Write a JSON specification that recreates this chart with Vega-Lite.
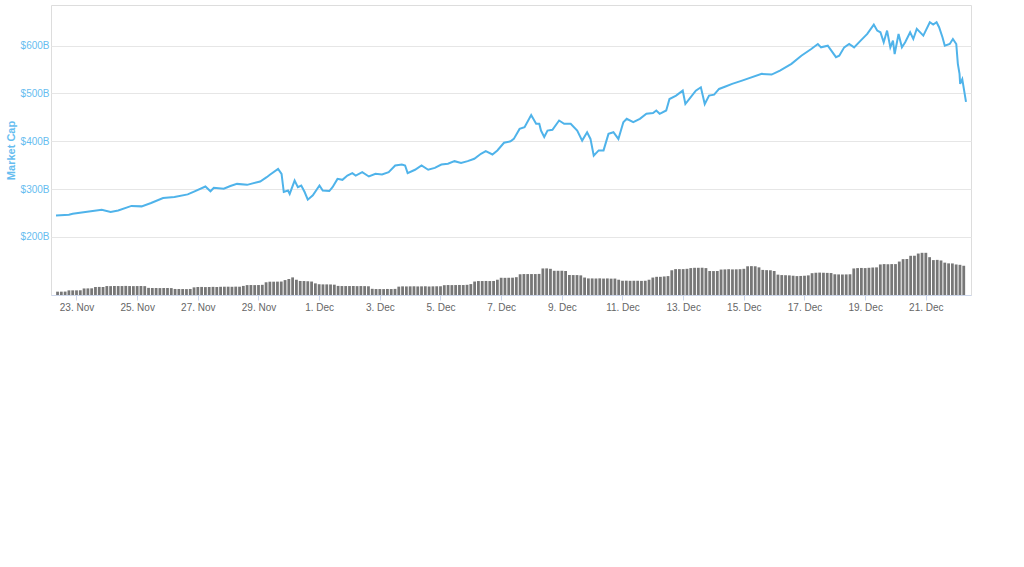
{
"$schema": "https://vega.github.io/schema/vega-lite/v6.json",
"width": 920,
"height": 290,
"layer": [
{"data": {"values": [
{"t":"2017-11-22T07:47:00Z","c":245},{"t":"2017-11-22T18:00:00Z","c":246.5},{"t":"2017-11-22T21:00:00Z","c":248.5},{"t":"2017-11-23T07:00:00Z","c":252},{"t":"2017-11-23T20:00:00Z","c":257},{"t":"2017-11-24T03:00:00Z","c":252.5},{"t":"2017-11-24T09:00:00Z","c":255.5},{"t":"2017-11-24T19:30:00Z","c":265},{"t":"2017-11-25T03:30:00Z","c":264},{"t":"2017-11-25T11:00:00Z","c":271},{"t":"2017-11-25T20:30:00Z","c":281.5},{"t":"2017-11-26T05:30:00Z","c":283.5},{"t":"2017-11-26T16:00:00Z","c":289},{"t":"2017-11-26T21:00:00Z","c":295},{"t":"2017-11-27T06:00:00Z","c":305.5},{"t":"2017-11-27T10:00:00Z","c":295.5},{"t":"2017-11-27T12:40:00Z","c":303},{"t":"2017-11-27T20:30:00Z","c":301},{"t":"2017-11-28T01:45:00Z","c":306.5},{"t":"2017-11-28T07:00:00Z","c":311},{"t":"2017-11-28T15:00:00Z","c":309},{"t":"2017-11-29T01:20:00Z","c":316},{"t":"2017-11-29T06:30:00Z","c":325},{"t":"2017-11-29T09:00:00Z","c":330},{"t":"2017-11-29T15:30:00Z","c":342.5},{"t":"2017-11-29T18:15:00Z","c":332},{"t":"2017-11-29T20:00:00Z","c":294},{"t":"2017-11-29T23:20:00Z","c":297},{"t":"2017-11-30T00:40:00Z","c":290},{"t":"2017-11-30T04:35:00Z","c":318},{"t":"2017-11-30T07:10:00Z","c":304},{"t":"2017-11-30T09:50:00Z","c":307.5},{"t":"2017-11-30T12:30:00Z","c":294},{"t":"2017-11-30T15:00:00Z","c":278},{"t":"2017-11-30T19:00:00Z","c":287},{"t":"2017-12-01T00:15:00Z","c":307.5},{"t":"2017-12-01T02:50:00Z","c":297},{"t":"2017-12-01T08:00:00Z","c":296},{"t":"2017-12-01T10:35:00Z","c":304},{"t":"2017-12-01T14:30:00Z","c":321.5},{"t":"2017-12-01T18:25:00Z","c":319.5},{"t":"2017-12-01T22:20:00Z","c":328.5},{"t":"2017-12-02T02:15:00Z","c":333.5},{"t":"2017-12-02T04:55:00Z","c":328.5},{"t":"2017-12-02T10:05:00Z","c":335.5},{"t":"2017-12-02T15:20:00Z","c":326.5},{"t":"2017-12-02T20:35:00Z","c":332},{"t":"2017-12-03T01:45:00Z","c":330.5},{"t":"2017-12-03T07:00:00Z","c":335.5},{"t":"2017-12-03T12:10:00Z","c":349.5},{"t":"2017-12-03T17:25:00Z","c":351.5},{"t":"2017-12-03T20:00:00Z","c":349.5},{"t":"2017-12-03T22:00:00Z","c":333.5},{"t":"2017-12-04T03:50:00Z","c":340.5},{"t":"2017-12-04T09:00:00Z","c":349.5},{"t":"2017-12-04T14:15:00Z","c":340.5},{"t":"2017-12-04T19:30:00Z","c":344.5},{"t":"2017-12-05T00:40:00Z","c":351.5},{"t":"2017-12-05T05:55:00Z","c":353},{"t":"2017-12-05T11:05:00Z","c":358.5},{"t":"2017-12-05T16:15:00Z","c":354.5},{"t":"2017-12-05T21:30:00Z","c":358.5},{"t":"2017-12-06T02:45:00Z","c":363.5},{"t":"2017-12-06T08:00:00Z","c":374},{"t":"2017-12-06T11:50:00Z","c":379.5},{"t":"2017-12-06T17:05:00Z","c":372.5},{"t":"2017-12-06T21:00:00Z","c":381},{"t":"2017-12-07T02:15:00Z","c":397},{"t":"2017-12-07T07:25:00Z","c":400},{"t":"2017-12-07T10:00:00Z","c":405},{"t":"2017-12-07T14:35:00Z","c":426},{"t":"2017-12-07T18:30:00Z","c":429.5},{"t":"2017-12-07T23:45:00Z","c":455},{"t":"2017-12-08T03:40:00Z","c":436.5},{"t":"2017-12-08T06:10:00Z","c":436.5},{"t":"2017-12-08T07:30:00Z","c":422.5},{"t":"2017-12-08T10:05:00Z","c":409},{"t":"2017-12-08T12:40:00Z","c":422.5},{"t":"2017-12-08T16:35:00Z","c":424},{"t":"2017-12-08T21:50:00Z","c":443.5},{"t":"2017-12-09T01:50:00Z","c":436.5},{"t":"2017-12-09T07:00:00Z","c":436.5},{"t":"2017-12-09T12:10:00Z","c":422.5},{"t":"2017-12-09T16:05:00Z","c":401.5},{"t":"2017-12-09T20:00:00Z","c":419},{"t":"2017-12-09T22:40:00Z","c":405},{"t":"2017-12-10T01:15:00Z","c":370},{"t":"2017-12-10T05:10:00Z","c":381},{"t":"2017-12-10T09:00:00Z","c":381},{"t":"2017-12-10T12:55:00Z","c":415.5},{"t":"2017-12-10T16:50:00Z","c":419},{"t":"2017-12-10T20:45:00Z","c":405},{"t":"2017-12-11T00:40:00Z","c":440},{"t":"2017-12-11T03:20:00Z","c":447},{"t":"2017-12-11T08:30:00Z","c":440},{"t":"2017-12-11T13:45:00Z","c":447},{"t":"2017-12-11T18:55:00Z","c":457.5},{"t":"2017-12-12T00:10:00Z","c":459},{"t":"2017-12-12T02:45:00Z","c":464.5},{"t":"2017-12-12T05:25:00Z","c":457.5},{"t":"2017-12-12T10:35:00Z","c":464.5},{"t":"2017-12-12T13:10:00Z","c":488.5},{"t":"2017-12-12T18:25:00Z","c":495.5},{"t":"2017-12-12T23:40:00Z","c":506},{"t":"2017-12-13T01:45:00Z","c":478},{"t":"2017-12-13T04:55:00Z","c":488.5},{"t":"2017-12-13T10:00:00Z","c":506},{"t":"2017-12-13T14:00:00Z","c":513},{"t":"2017-12-13T17:05:00Z","c":478},{"t":"2017-12-13T20:30:00Z","c":495.5},{"t":"2017-12-14T00:30:00Z","c":497.5},{"t":"2017-12-14T04:25:00Z","c":509.5},{"t":"2017-12-14T09:30:00Z","c":514.5},{"t":"2017-12-14T14:45:00Z","c":520},{"t":"2017-12-14T22:35:00Z","c":527},{"t":"2017-12-15T14:10:00Z","c":541},{"t":"2017-12-15T22:00:00Z","c":539.5},{"t":"2017-12-16T04:35:00Z","c":548},{"t":"2017-12-16T13:40:00Z","c":562},{"t":"2017-12-16T21:30:00Z","c":579},{"t":"2017-12-17T05:20:00Z","c":593},{"t":"2017-12-17T10:35:00Z","c":603.5},{"t":"2017-12-17T13:05:00Z","c":596.5},{"t":"2017-12-17T18:25:00Z","c":600},{"t":"2017-12-18T00:55:00Z","c":576},{"t":"2017-12-18T03:30:00Z","c":579},{"t":"2017-12-18T07:25:00Z","c":596.5},{"t":"2017-12-18T11:20:00Z","c":603.5},{"t":"2017-12-18T15:15:00Z","c":596.5},{"t":"2017-12-18T20:25:00Z","c":610.5},{"t":"2017-12-19T01:40:00Z","c":624.5},{"t":"2017-12-19T06:50:00Z","c":644},{"t":"2017-12-19T09:30:00Z","c":631.5},{"t":"2017-12-19T12:05:00Z","c":628},{"t":"2017-12-19T14:40:00Z","c":607},{"t":"2017-12-19T17:20:00Z","c":631.5},{"t":"2017-12-19T19:55:00Z","c":596.5},{"t":"2017-12-19T22:00:00Z","c":610.5},{"t":"2017-12-19T23:20:00Z","c":582.5},{"t":"2017-12-20T02:25:00Z","c":624.5},{"t":"2017-12-20T05:05:00Z","c":596.5},{"t":"2017-12-20T07:40:00Z","c":607},{"t":"2017-12-20T11:35:00Z","c":628},{"t":"2017-12-20T14:05:00Z","c":614},{"t":"2017-12-20T16:50:00Z","c":635},{"t":"2017-12-20T22:00:00Z","c":621},{"t":"2017-12-21T03:10:00Z","c":649},{"t":"2017-12-21T05:50:00Z","c":644},{"t":"2017-12-21T08:30:00Z","c":649},{"t":"2017-12-21T10:30:00Z","c":638.5},{"t":"2017-12-21T13:10:00Z","c":617.5},{"t":"2017-12-21T15:00:00Z","c":600},{"t":"2017-12-21T18:55:00Z","c":603.5},{"t":"2017-12-21T21:25:00Z","c":614},{"t":"2017-12-22T00:05:00Z","c":603.5},{"t":"2017-12-22T01:20:00Z","c":562},{"t":"2017-12-22T02:40:00Z","c":541},{"t":"2017-12-22T03:10:00Z","c":520},{"t":"2017-12-22T04:50:00Z","c":530},{"t":"2017-12-22T07:47:00Z","c":482.352}
]},
 "mark": {"type": "line", "color": "#4fb3ea", "strokeWidth": 2},
 "encoding": {
  "x": {"field": "t", "type": "temporal", "scale": {"domain": [1511336820000, 1513928820000]}, "axis": {"format": "%-d. %b", "title": null, "grid": false, "tickCount": 15, "labelColor": "#666666", "tickColor": "#ccd6eb", "domainColor": "#ccd6eb"}},
  "y": {"field": "c", "type": "quantitative", "scale": {"domain": [78.7, 685], "nice": false, "zero": false}, "axis": {"values": [200, 300, 400, 500, 600], "labelExpr": "'$' + datum.value + 'B'", "title": "Market Cap", "titleColor": "#66bdf0", "labelColor": "#66bdf0", "gridColor": "#e6e6e6", "domain": false, "ticks": false}}
 }},
{"data": {"values": [
{"t":"2017-11-22T09:00:00Z","v":4.6},{"t":"2017-11-22T12:00:00Z","v":4.6},{"t":"2017-11-22T15:00:00Z","v":4.7},{"t":"2017-11-22T18:00:00Z","v":6.4},{"t":"2017-11-22T21:00:00Z","v":6.4},
{"t":"2017-11-23T00:00:00Z","v":6.4},{"t":"2017-11-23T03:00:00Z","v":6.5},{"t":"2017-11-23T06:00:00Z","v":9.0},{"t":"2017-11-23T09:00:00Z","v":9.1},{"t":"2017-11-23T12:00:00Z","v":9.2},{"t":"2017-11-23T15:00:00Z","v":11.0},{"t":"2017-11-23T18:00:00Z","v":11.1},{"t":"2017-11-23T21:00:00Z","v":11.0},
{"t":"2017-11-24T00:00:00Z","v":12.3},{"t":"2017-11-24T03:00:00Z","v":12.2},{"t":"2017-11-24T06:00:00Z","v":12.4},{"t":"2017-11-24T09:00:00Z","v":12.3},{"t":"2017-11-24T12:00:00Z","v":12.3},{"t":"2017-11-24T15:00:00Z","v":12.5},{"t":"2017-11-24T18:00:00Z","v":12.3},{"t":"2017-11-24T21:00:00Z","v":12.2},
{"t":"2017-11-25T00:00:00Z","v":12.3},{"t":"2017-11-25T03:00:00Z","v":12.4},{"t":"2017-11-25T06:00:00Z","v":12.2},{"t":"2017-11-25T09:00:00Z","v":9.8},{"t":"2017-11-25T12:00:00Z","v":9.6},{"t":"2017-11-25T15:00:00Z","v":9.6},{"t":"2017-11-25T18:00:00Z","v":9.5},{"t":"2017-11-25T21:00:00Z","v":9.6},
{"t":"2017-11-26T00:00:00Z","v":9.6},{"t":"2017-11-26T03:00:00Z","v":9.5},{"t":"2017-11-26T06:00:00Z","v":8.3},{"t":"2017-11-26T09:00:00Z","v":8.2},{"t":"2017-11-26T12:00:00Z","v":8.2},{"t":"2017-11-26T15:00:00Z","v":8.1},{"t":"2017-11-26T18:00:00Z","v":8.3},{"t":"2017-11-26T21:00:00Z","v":10.5},
{"t":"2017-11-27T00:00:00Z","v":11.0},{"t":"2017-11-27T03:00:00Z","v":11.1},{"t":"2017-11-27T06:00:00Z","v":10.9},{"t":"2017-11-27T09:00:00Z","v":11.0},{"t":"2017-11-27T12:00:00Z","v":11.2},{"t":"2017-11-27T15:00:00Z","v":11.0},{"t":"2017-11-27T18:00:00Z","v":11.3},{"t":"2017-11-27T21:00:00Z","v":11.4},
{"t":"2017-11-28T00:00:00Z","v":11.4},{"t":"2017-11-28T03:00:00Z","v":11.3},{"t":"2017-11-28T06:00:00Z","v":11.5},{"t":"2017-11-28T09:00:00Z","v":11.4},{"t":"2017-11-28T12:00:00Z","v":12.5},{"t":"2017-11-28T15:00:00Z","v":13.6},{"t":"2017-11-28T18:00:00Z","v":13.7},{"t":"2017-11-28T21:00:00Z","v":13.6},
{"t":"2017-11-29T00:00:00Z","v":13.7},{"t":"2017-11-29T03:00:00Z","v":14.0},{"t":"2017-11-29T06:00:00Z","v":17.5},{"t":"2017-11-29T09:00:00Z","v":18.3},{"t":"2017-11-29T12:00:00Z","v":18.3},{"t":"2017-11-29T15:00:00Z","v":18.4},{"t":"2017-11-29T18:00:00Z","v":18.5},{"t":"2017-11-29T21:00:00Z","v":20.5},
{"t":"2017-11-30T00:00:00Z","v":22.0},{"t":"2017-11-30T03:00:00Z","v":24.2},{"t":"2017-11-30T06:00:00Z","v":21.0},{"t":"2017-11-30T09:00:00Z","v":19.3},{"t":"2017-11-30T12:00:00Z","v":19.2},{"t":"2017-11-30T15:00:00Z","v":19.0},{"t":"2017-11-30T18:00:00Z","v":18.5},{"t":"2017-11-30T21:00:00Z","v":16.0},
{"t":"2017-12-01T00:00:00Z","v":14.8},{"t":"2017-12-01T03:00:00Z","v":14.6},{"t":"2017-12-01T06:00:00Z","v":14.6},{"t":"2017-12-01T09:00:00Z","v":14.5},{"t":"2017-12-01T12:00:00Z","v":14.2},{"t":"2017-12-01T15:00:00Z","v":12.5},{"t":"2017-12-01T18:00:00Z","v":12.3},{"t":"2017-12-01T21:00:00Z","v":12.3},
{"t":"2017-12-02T00:00:00Z","v":12.3},{"t":"2017-12-02T03:00:00Z","v":12.4},{"t":"2017-12-02T06:00:00Z","v":12.2},{"t":"2017-12-02T09:00:00Z","v":12.3},{"t":"2017-12-02T12:00:00Z","v":12.2},{"t":"2017-12-02T15:00:00Z","v":12.0},{"t":"2017-12-02T18:00:00Z","v":8.5},{"t":"2017-12-02T21:00:00Z","v":8.2},
{"t":"2017-12-03T00:00:00Z","v":8.2},{"t":"2017-12-03T03:00:00Z","v":8.1},{"t":"2017-12-03T06:00:00Z","v":8.3},{"t":"2017-12-03T09:00:00Z","v":8.2},{"t":"2017-12-03T12:00:00Z","v":8.4},{"t":"2017-12-03T15:00:00Z","v":11.5},{"t":"2017-12-03T18:00:00Z","v":11.9},{"t":"2017-12-03T21:00:00Z","v":11.8},
{"t":"2017-12-04T00:00:00Z","v":11.9},{"t":"2017-12-04T03:00:00Z","v":12.0},{"t":"2017-12-04T06:00:00Z","v":11.8},{"t":"2017-12-04T09:00:00Z","v":11.9},{"t":"2017-12-04T12:00:00Z","v":12.0},{"t":"2017-12-04T15:00:00Z","v":11.7},{"t":"2017-12-04T18:00:00Z","v":11.9},{"t":"2017-12-04T21:00:00Z","v":12.0},
{"t":"2017-12-05T00:00:00Z","v":12.0},{"t":"2017-12-05T03:00:00Z","v":13.5},{"t":"2017-12-05T06:00:00Z","v":13.7},{"t":"2017-12-05T09:00:00Z","v":13.6},{"t":"2017-12-05T12:00:00Z","v":13.7},{"t":"2017-12-05T15:00:00Z","v":13.8},{"t":"2017-12-05T18:00:00Z","v":13.7},{"t":"2017-12-05T21:00:00Z","v":14.0},
{"t":"2017-12-06T00:00:00Z","v":15.0},{"t":"2017-12-06T03:00:00Z","v":18.5},{"t":"2017-12-06T06:00:00Z","v":19.2},{"t":"2017-12-06T09:00:00Z","v":19.2},{"t":"2017-12-06T12:00:00Z","v":19.3},{"t":"2017-12-06T15:00:00Z","v":19.2},{"t":"2017-12-06T18:00:00Z","v":19.3},{"t":"2017-12-06T21:00:00Z","v":21.0},
{"t":"2017-12-07T00:00:00Z","v":23.7},{"t":"2017-12-07T03:00:00Z","v":23.6},{"t":"2017-12-07T06:00:00Z","v":23.7},{"t":"2017-12-07T09:00:00Z","v":23.8},{"t":"2017-12-07T12:00:00Z","v":24.5},{"t":"2017-12-07T15:00:00Z","v":28.5},{"t":"2017-12-07T18:00:00Z","v":28.8},{"t":"2017-12-07T21:00:00Z","v":28.8},
{"t":"2017-12-08T00:00:00Z","v":28.8},{"t":"2017-12-08T03:00:00Z","v":28.8},{"t":"2017-12-08T06:00:00Z","v":29.0},{"t":"2017-12-08T09:00:00Z","v":36.5},{"t":"2017-12-08T12:00:00Z","v":36.6},{"t":"2017-12-08T15:00:00Z","v":36.0},{"t":"2017-12-08T18:00:00Z","v":33.3},{"t":"2017-12-08T21:00:00Z","v":33.3},
{"t":"2017-12-09T00:00:00Z","v":33.3},{"t":"2017-12-09T03:00:00Z","v":33.0},{"t":"2017-12-09T06:00:00Z","v":27.5},{"t":"2017-12-09T09:00:00Z","v":27.4},{"t":"2017-12-09T12:00:00Z","v":27.4},{"t":"2017-12-09T15:00:00Z","v":27.0},{"t":"2017-12-09T18:00:00Z","v":24.0},{"t":"2017-12-09T21:00:00Z","v":22.8},
{"t":"2017-12-10T00:00:00Z","v":22.8},{"t":"2017-12-10T03:00:00Z","v":22.7},{"t":"2017-12-10T06:00:00Z","v":22.9},{"t":"2017-12-10T09:00:00Z","v":22.6},{"t":"2017-12-10T12:00:00Z","v":22.8},{"t":"2017-12-10T15:00:00Z","v":22.5},{"t":"2017-12-10T18:00:00Z","v":22.6},{"t":"2017-12-10T21:00:00Z","v":21.0},
{"t":"2017-12-11T00:00:00Z","v":19.6},{"t":"2017-12-11T03:00:00Z","v":19.7},{"t":"2017-12-11T06:00:00Z","v":19.5},{"t":"2017-12-11T09:00:00Z","v":19.6},{"t":"2017-12-11T12:00:00Z","v":19.6},{"t":"2017-12-11T15:00:00Z","v":19.4},{"t":"2017-12-11T18:00:00Z","v":19.6},{"t":"2017-12-11T21:00:00Z","v":21.0},
{"t":"2017-12-12T00:00:00Z","v":24.0},{"t":"2017-12-12T03:00:00Z","v":25.0},{"t":"2017-12-12T06:00:00Z","v":25.0},{"t":"2017-12-12T09:00:00Z","v":25.5},{"t":"2017-12-12T12:00:00Z","v":26.0},{"t":"2017-12-12T15:00:00Z","v":34.0},{"t":"2017-12-12T18:00:00Z","v":35.6},{"t":"2017-12-12T21:00:00Z","v":35.6},
{"t":"2017-12-13T00:00:00Z","v":35.6},{"t":"2017-12-13T03:00:00Z","v":36.0},{"t":"2017-12-13T06:00:00Z","v":37.0},{"t":"2017-12-13T09:00:00Z","v":37.4},{"t":"2017-12-13T12:00:00Z","v":37.4},{"t":"2017-12-13T15:00:00Z","v":37.5},{"t":"2017-12-13T18:00:00Z","v":37.0},{"t":"2017-12-13T21:00:00Z","v":33.0},
{"t":"2017-12-14T00:00:00Z","v":32.9},{"t":"2017-12-14T03:00:00Z","v":33.0},{"t":"2017-12-14T06:00:00Z","v":35.0},{"t":"2017-12-14T09:00:00Z","v":35.2},{"t":"2017-12-14T12:00:00Z","v":35.5},{"t":"2017-12-14T15:00:00Z","v":35.2},{"t":"2017-12-14T18:00:00Z","v":35.3},{"t":"2017-12-14T21:00:00Z","v":35.5},
{"t":"2017-12-15T00:00:00Z","v":36.0},{"t":"2017-12-15T03:00:00Z","v":39.5},{"t":"2017-12-15T06:00:00Z","v":39.7},{"t":"2017-12-15T09:00:00Z","v":39.5},{"t":"2017-12-15T12:00:00Z","v":38.0},{"t":"2017-12-15T15:00:00Z","v":34.5},{"t":"2017-12-15T18:00:00Z","v":34.2},{"t":"2017-12-15T21:00:00Z","v":34.0},
{"t":"2017-12-16T00:00:00Z","v":33.0},{"t":"2017-12-16T03:00:00Z","v":28.0},{"t":"2017-12-16T06:00:00Z","v":27.4},{"t":"2017-12-16T09:00:00Z","v":27.2},{"t":"2017-12-16T12:00:00Z","v":27.0},{"t":"2017-12-16T15:00:00Z","v":26.5},{"t":"2017-12-16T18:00:00Z","v":26.0},{"t":"2017-12-16T21:00:00Z","v":26.2},
{"t":"2017-12-17T00:00:00Z","v":26.5},{"t":"2017-12-17T03:00:00Z","v":27.0},{"t":"2017-12-17T06:00:00Z","v":30.0},{"t":"2017-12-17T09:00:00Z","v":30.6},{"t":"2017-12-17T12:00:00Z","v":30.8},{"t":"2017-12-17T15:00:00Z","v":30.6},{"t":"2017-12-17T18:00:00Z","v":30.4},{"t":"2017-12-17T21:00:00Z","v":30.2},
{"t":"2017-12-18T00:00:00Z","v":28.5},{"t":"2017-12-18T03:00:00Z","v":28.3},{"t":"2017-12-18T06:00:00Z","v":28.2},{"t":"2017-12-18T09:00:00Z","v":28.3},{"t":"2017-12-18T12:00:00Z","v":28.5},{"t":"2017-12-18T15:00:00Z","v":36.5},{"t":"2017-12-18T18:00:00Z","v":37.0},{"t":"2017-12-18T21:00:00Z","v":37.2},
{"t":"2017-12-19T00:00:00Z","v":37.0},{"t":"2017-12-19T03:00:00Z","v":37.4},{"t":"2017-12-19T06:00:00Z","v":37.8},{"t":"2017-12-19T09:00:00Z","v":38.0},{"t":"2017-12-19T12:00:00Z","v":42.0},{"t":"2017-12-19T15:00:00Z","v":42.5},{"t":"2017-12-19T18:00:00Z","v":42.3},{"t":"2017-12-19T21:00:00Z","v":42.5},
{"t":"2017-12-20T00:00:00Z","v":42.5},{"t":"2017-12-20T03:00:00Z","v":46.0},{"t":"2017-12-20T06:00:00Z","v":49.3},{"t":"2017-12-20T09:00:00Z","v":49.5},{"t":"2017-12-20T12:00:00Z","v":53.9},{"t":"2017-12-20T15:00:00Z","v":54.0},{"t":"2017-12-20T18:00:00Z","v":57.0},{"t":"2017-12-20T21:00:00Z","v":58.0},
{"t":"2017-12-21T00:00:00Z","v":58.0},{"t":"2017-12-21T03:00:00Z","v":52.0},{"t":"2017-12-21T06:00:00Z","v":48.0},{"t":"2017-12-21T09:00:00Z","v":48.3},{"t":"2017-12-21T12:00:00Z","v":47.5},{"t":"2017-12-21T15:00:00Z","v":44.5},{"t":"2017-12-21T18:00:00Z","v":43.5},{"t":"2017-12-21T21:00:00Z","v":43.4},
{"t":"2017-12-22T00:00:00Z","v":42.0},{"t":"2017-12-22T03:00:00Z","v":41.5},{"t":"2017-12-22T06:00:00Z","v":40.2}
]},
 "mark": {"type": "bar", "color": "#777777", "size": 2.8},
 "encoding": {
  "x": {"field": "t", "type": "temporal"},
  "y": {"field": "v", "type": "quantitative", "scale": {"domain": [0, 398.75], "nice": false}, "axis": null}
 }}
],
"resolve": {"scale": {"y": "independent"}}
}
